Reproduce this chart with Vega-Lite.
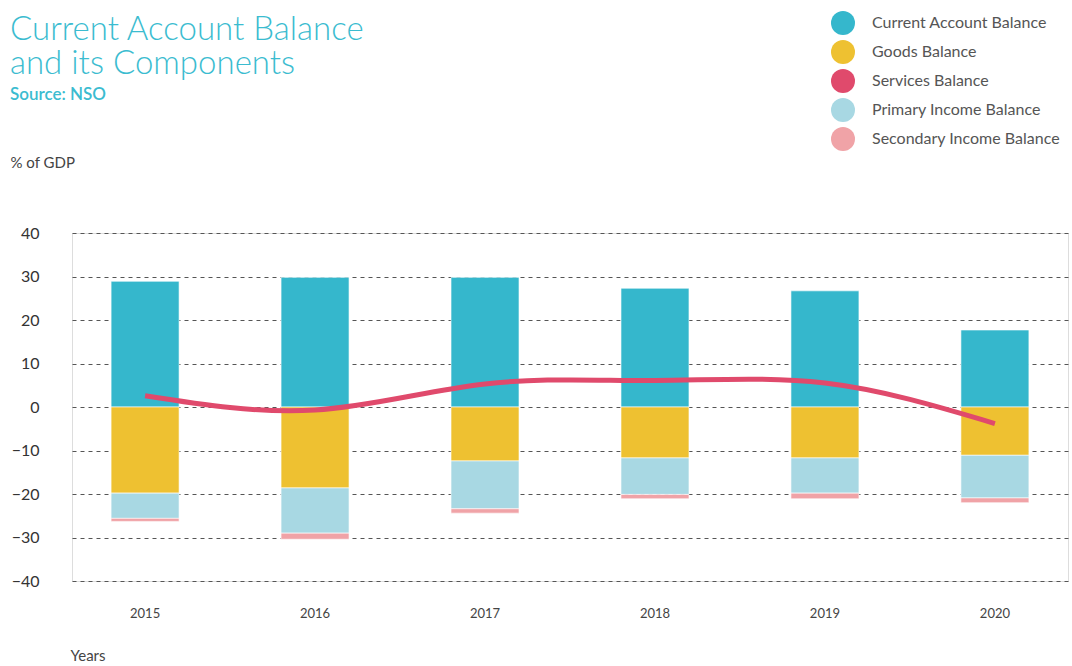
{
  "$schema": "https://vega.github.io/schema/vega-lite/v6.json",
  "autosize": "none",
  "width": 996,
  "height": 348,
  "padding": {"left": 72, "top": 233, "right": 4, "bottom": 85},
  "background": "white",
  "title": {
    "text": ["Current Account Balance", "and its Components"],
    "subtitle": "Source: NSO",
    "anchor": "start",
    "frame": "bounds",
    "font": "Lato",
    "fontSize": 33,
    "fontWeight": 300,
    "color": "#3bbcd0",
    "lineHeight": 34,
    "subtitleFont": "Lato",
    "subtitleFontSize": 17,
    "subtitleFontWeight": 600,
    "subtitleColor": "#3bbcd0",
    "subtitlePadding": 6,
    "offset": 50,
    "dy": 142
  },
  "data": {
    "values": [
      {"year": "2015", "series": "Current Account Balance", "value": 28.9, "ord": 0},
      {"year": "2015", "series": "Goods Balance", "value": -19.8, "ord": 1},
      {"year": "2015", "series": "Services Balance", "value": 2.6, "ord": 4},
      {"year": "2015", "series": "Primary Income Balance", "value": -5.8, "ord": 2},
      {"year": "2015", "series": "Secondary Income Balance", "value": -0.7, "ord": 3},
      {"year": "2016", "series": "Current Account Balance", "value": 29.8, "ord": 0},
      {"year": "2016", "series": "Goods Balance", "value": -18.6, "ord": 1},
      {"year": "2016", "series": "Services Balance", "value": -0.7, "ord": 4},
      {"year": "2016", "series": "Primary Income Balance", "value": -10.4, "ord": 2},
      {"year": "2016", "series": "Secondary Income Balance", "value": -1.4, "ord": 3},
      {"year": "2017", "series": "Current Account Balance", "value": 29.8, "ord": 0},
      {"year": "2017", "series": "Goods Balance", "value": -12.4, "ord": 1},
      {"year": "2017", "series": "Services Balance", "value": 5.3, "ord": 4},
      {"year": "2017", "series": "Primary Income Balance", "value": -11.0, "ord": 2},
      {"year": "2017", "series": "Secondary Income Balance", "value": -1.0, "ord": 3},
      {"year": "2018", "series": "Current Account Balance", "value": 27.3, "ord": 0},
      {"year": "2018", "series": "Goods Balance", "value": -11.7, "ord": 1},
      {"year": "2018", "series": "Services Balance", "value": 6.1, "ord": 4},
      {"year": "2018", "series": "Primary Income Balance", "value": -8.4, "ord": 2},
      {"year": "2018", "series": "Secondary Income Balance", "value": -1.0, "ord": 3},
      {"year": "2019", "series": "Current Account Balance", "value": 26.7, "ord": 0},
      {"year": "2019", "series": "Goods Balance", "value": -11.7, "ord": 1},
      {"year": "2019", "series": "Services Balance", "value": 5.5, "ord": 4},
      {"year": "2019", "series": "Primary Income Balance", "value": -8.1, "ord": 2},
      {"year": "2019", "series": "Secondary Income Balance", "value": -1.3, "ord": 3},
      {"year": "2020", "series": "Current Account Balance", "value": 17.7, "ord": 0},
      {"year": "2020", "series": "Goods Balance", "value": -11.1, "ord": 1},
      {"year": "2020", "series": "Services Balance", "value": -3.8, "ord": 4},
      {"year": "2020", "series": "Primary Income Balance", "value": -9.8, "ord": 2},
      {"year": "2020", "series": "Secondary Income Balance", "value": -1.1, "ord": 3}
    ]
  },
  "encoding": {
    "x": {
      "field": "year",
      "type": "ordinal",
      "scale": {"paddingInner": 0.6, "paddingOuter": 0.23},
      "axis": {
        "title": "Years",
        "labelAngle": 0,
        "domain": false,
        "ticks": false,
        "labelPadding": 26,
        "labelFont": "Lato",
        "labelFontSize": 13,
        "labelColor": "#444444",
        "titleFont": "Lato",
        "titleFontSize": 15,
        "titleFontWeight": "normal",
        "titleColor": "#444444",
        "titleAnchor": "start",
        "titleAlign": "left",
        "titleBaseline": "middle",
        "titleX": -2,
        "titleY": 74
      }
    }
  },
  "layer": [
    {
      "transform": [{"filter": "datum.series !== 'Services Balance'"}],
      "mark": {"type": "bar", "stroke": "white", "strokeWidth": 0.6},
      "encoding": {
        "y": {
          "field": "value",
          "type": "quantitative",
          "stack": "zero",
          "scale": {"domain": [-40, 40], "nice": false},
          "axis": {
            "title": "% of GDP",
            "values": [-40, -30, -20, -10, 0, 10, 20, 30, 40],
            "domain": false,
            "ticks": false,
            "labelPadding": 33,
            "labelFont": "Lato",
            "labelFontSize": 16,
            "labelColor": "#333333",
            "grid": true,
            "gridDash": [4, 4],
            "gridColor": "#555555",
            "gridWidth": 1,
            "titleFont": "Lato",
            "titleFontSize": 15,
            "titleFontWeight": "normal",
            "titleColor": "#444444",
            "titleAngle": 0,
            "titleAlign": "left",
            "titleBaseline": "middle",
            "titleX": -62,
            "titleY": -71
          }
        },
        "color": {
          "field": "series",
          "type": "nominal",
          "scale": {
            "domain": ["Current Account Balance", "Goods Balance", "Services Balance", "Primary Income Balance", "Secondary Income Balance"],
            "range": ["#35b7cc", "#eec131", "#e04a6c", "#a8d8e3", "#f0a3a7"]
          },
          "legend": {
            "title": null,
            "orient": "none",
            "legendX": 759,
            "legendY": -222,
            "symbolType": "circle",
            "symbolSize": 576,
            "symbolStrokeWidth": 0,
            "symbolOpacity": 1,
            "labelFont": "Lato",
            "labelFontSize": 16,
            "labelColor": "#555555",
            "labelOffset": 17,
            "rowPadding": 5,
            "labelLimit": 300
          }
        },
        "order": {"field": "ord", "type": "quantitative"}
      }
    },
    {
      "mark": {"type": "rule", "color": "#8a8a8a", "strokeWidth": 1.5},
      "encoding": {"y": {"datum": 0, "type": "quantitative"}}
    },
    {
      "transform": [{"filter": "datum.series === 'Services Balance'"}],
      "mark": {"type": "line", "interpolate": "natural", "strokeWidth": 5, "color": "#e04a6c"},
      "encoding": {
        "y": {"field": "value", "type": "quantitative"}
      }
    }
  ]
}
